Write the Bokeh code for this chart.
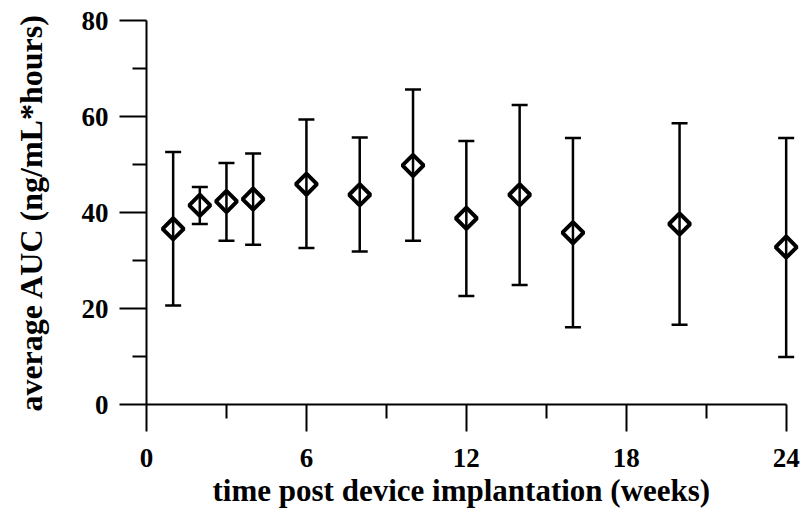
import math
from bokeh.plotting import figure
from bokeh.models import (ColumnDataSource, Range1d, FixedTicker, Whisker,
                          TeeHead, Title)
from bokeh.embed import file_html
from bokeh.resources import INLINE

# ---- data ----
weeks = [1, 2, 3, 4, 6, 8, 10, 12, 14, 16, 20, 24]
auc_mean = [36.6, 41.5, 42.3, 42.8, 45.9, 43.7, 49.8, 38.8, 43.7, 35.8, 37.6, 32.8]
auc_upper = [52.6, 45.3, 50.3, 52.3, 59.4, 55.6, 65.6, 54.9, 62.4, 55.5, 58.6, 55.5]
auc_lower = [20.6, 37.6, 34.1, 33.3, 32.6, 31.9, 34.1, 22.6, 24.9, 16.1, 16.6, 9.9]

x_major = [0, 6, 12, 18, 24]
x_minor = [3, 9, 15, 21]
y_major = [0, 20, 40, 60, 80]
y_minor = [10, 30, 50, 70]

x_title = "time post device implantation (weeks)"
y_title = "average AUC (ng/mL*hours)"

FONT = "Liberation Serif"

src = ColumnDataSource(dict(x=weeks, y=auc_mean, lo=auc_lower, hi=auc_upper))

p = figure(width=801, height=508, output_backend="svg", toolbar_location=None,
           x_range=Range1d(0, 24.5), y_range=Range1d(0, 80),
           min_border_left=146, min_border_right=2, min_border_top=20,
           min_border_bottom=104)
p.outline_line_color = None
p.grid.visible = False
p.background_fill_color = "white"
p.border_fill_color = "white"

w = Whisker(source=src, base="x", lower="lo", upper="hi",
            line_color="black", line_width=2.5,
            upper_head=TeeHead(size=16, line_width=2.5, line_color="black"),
            lower_head=TeeHead(size=16, line_width=2.5, line_color="black"))
p.add_layout(w)

p.scatter("x", "y", source=src, marker="square", angle=math.pi / 4, size=15,
          fill_alpha=0, line_color="black", line_width=4)

for ax in (p.xaxis[0], p.yaxis[0]):
    ax.axis_line_width = 2
    ax.major_tick_line_width = 2
    ax.minor_tick_line_width = 2
    ax.axis_line_color = "black"
    ax.major_tick_line_color = "black"
    ax.minor_tick_line_color = "black"
    ax.major_tick_in = 0
    ax.major_tick_out = 27
    ax.minor_tick_in = 0
    ax.minor_tick_out = 14
    ax.major_label_text_font = FONT
    ax.major_label_text_font_style = "bold"
    ax.major_label_text_font_size = "27px"
    ax.major_label_text_color = "black"

p.xaxis.ticker = FixedTicker(ticks=x_major, minor_ticks=x_minor)
p.yaxis.ticker = FixedTicker(ticks=y_major, minor_ticks=y_minor)
p.xaxis.bounds = (0, 24)
p.xaxis.major_label_standoff = 17
p.yaxis.major_label_standoff = 11

p.yaxis.axis_label = y_title
p.yaxis.axis_label_text_font = FONT
p.yaxis.axis_label_text_font_style = "bold"
p.yaxis.axis_label_text_font_size = "32px"
p.yaxis.axis_label_text_color = "black"
p.yaxis.axis_label_standoff = 30

t = Title(text=x_title, align="left", offset=66, standoff=2,
          text_font=FONT, text_font_style="bold", text_font_size="31px",
          text_color="black")
p.add_layout(t, "below")

open("out.html", "w").write(file_html(p, INLINE))
